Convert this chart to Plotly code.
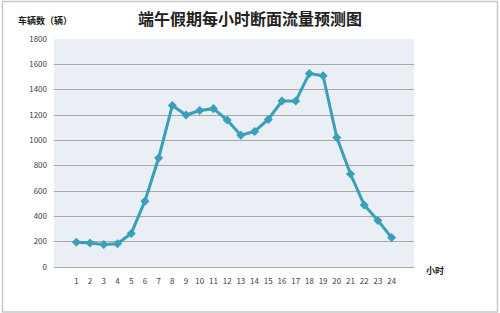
import plotly.graph_objects as go

hours = [str(i) for i in range(1, 25)]
flow = [195, 190, 178, 183, 265, 520, 860, 1275, 1200, 1235, 1250, 1160, 1040, 1070,
        1165, 1310, 1310, 1528, 1510, 1022, 734, 490, 367, 232]
y_ticks = list(range(0, 1801, 200))

title_text = "端午假期每小时断面流量预测图"
y_title = "车辆数（辆）"
x_title = "小时"

fig = go.Figure()
fig.add_trace(go.Scatter(
    x=hours, y=flow, mode="lines+markers",
    line=dict(color="#3a9fb9", width=3),
    marker=dict(symbol="diamond", size=7, color="#3a9fb9"),
    showlegend=False,
))

W, H = 500, 313
l, r, t, b = 54, 86, 39, 46
pw, ph = W - l - r, H - t - b

def px(x):
    return (x - l) / pw

def py(y):
    return (H - b - y) / ph

fig.update_layout(
    width=W, height=H,
    margin=dict(l=l, r=r, t=t, b=b),
    paper_bgcolor="white",
    plot_bgcolor="#e9eff4",
    font=dict(family="Noto Sans CJK SC", color="#404040", size=8),
    xaxis=dict(
        type="category", showgrid=False, showline=True, linecolor="#a8a8a8",
        ticks="", tickfont=dict(size=8, color="#404040"), ticklabelstandoff=6,
    ),
    yaxis=dict(
        range=[0, 1800], tickvals=y_ticks, showgrid=True, gridcolor="#a8a8a8",
        gridwidth=1, zeroline=False, showline=False, ticks="",
        tickfont=dict(size=8, color="#404040"), ticklabelstandoff=6,
    ),
    annotations=[
        dict(text="<b>" + title_text + "</b>", x=px(250), y=py(18), xref="paper", yref="paper",
             showarrow=False, font=dict(size=16, color="#222222", family="Noto Sans CJK SC"),
             xanchor="center", yanchor="middle"),
        dict(text="<b>" + y_title + "</b>", x=px(45), y=py(20), xref="paper", yref="paper",
             showarrow=False, font=dict(size=9, color="#222222"),
             xanchor="center", yanchor="middle"),
        dict(text="<b>" + x_title + "</b>", x=px(435), y=py(270), xref="paper", yref="paper",
             showarrow=False, font=dict(size=9, color="#222222"),
             xanchor="center", yanchor="middle"),
    ],
    shapes=[
        dict(type="rect", xref="paper", yref="paper",
             x0=px(2.5), x1=px(497.5), y0=py(312), y1=py(1.5),
             line=dict(color="#c8c8c8", width=1.5), fillcolor="rgba(0,0,0,0)", layer="below"),
    ],
)

fig.write_html("out.html")
